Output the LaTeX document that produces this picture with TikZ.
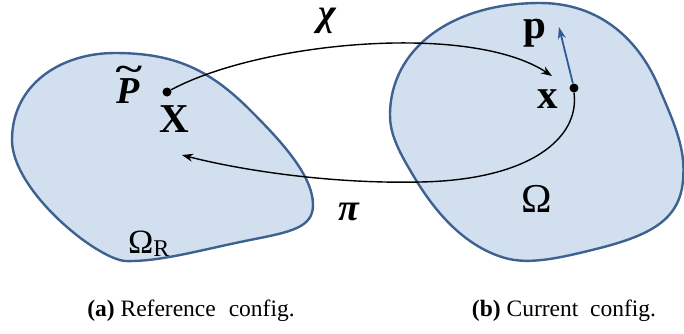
\documentclass[tikz,border=0pt]{standalone}
\usepackage{fontspec}
\setmainfont{Liberation Serif}
\usetikzlibrary{arrows.meta}
\definecolor{blobfill}{HTML}{D2DFEE}
\definecolor{blobline}{HTML}{3D6291}
\definecolor{vecblue}{HTML}{2F5A96}
\tikzset{
  blob/.style={fill=blobfill, draw=blobline, line width=2.4pt},
  mapline/.style={line width=1.4pt, -{Stealth[length=11pt,width=8pt]}},
  dotnode/.style={circle, fill=black, inner sep=0pt, minimum size=9pt},
  lbl/.style={inner sep=0pt, font=\fontsize{41}{44}\selectfont},
  glbl/.style={inner sep=0pt, font=\fontsize{38}{40}\selectfont},
  captext/.style={inner sep=0pt, anchor=base, font=\fontsize{23.5}{26}\selectfont},
}
\begin{document}
\begin{tikzpicture}[x=1pt,y=-1pt]
\useasboundingbox (0,0) rectangle (684,333);
% blobs
\draw[blob] (12,140) .. controls (12,85) and (60,53) .. (115,53)
  .. controls (175,53) and (210,70) .. (250,110)
  .. controls (280,140) and (313,175) .. (313,205)
  .. controls (313,228) and (290,232) .. (250,240)
  .. controls (200,250) and (160,262) .. (125,261)
  .. controls (95,258) and (12,190) .. (12,140) -- cycle;
\draw[blob] (390,115) .. controls (390,50) and (450,3) .. (540,3)
  .. controls (600,3) and (640,40) .. (660,90)
  .. controls (675,125) and (686,150) .. (683,180)
  .. controls (680,220) and (650,235) .. (600,248)
  .. controls (560,258) and (530,265) .. (505,258)
  .. controls (460,245) and (430,205) .. (410,170)
  .. controls (395,145) and (390,130) .. (390,115) -- cycle;
% points
\node[dotnode] (X) at (167,92) {};
\node[dotnode] (x) at (574,88) {};
\coordinate (chiend) at (552,76);
\coordinate (piend) at (182,155);
\coordinate (ptip) at (559,27);
% maps
\draw[mapline] (X) .. controls (260,42) and (470,22) .. (chiend);
\draw[mapline] (x.south) .. controls (580,138) and (530,180) .. (420,182)
   .. controls (330,184) and (240,170) .. (piend);
\draw[line width=1.8pt, vecblue, -{Stealth[length=12pt,width=8pt]}] (x) -- (ptip);
% labels
\node[lbl, anchor=base] (Xl) at (174,132) {\textbf{X}};
\node[glbl, anchor=base] (Pl) at (128,103) {\textbf{\textit{P}}};
\node[inner sep=0pt, font=\fontsize{34}{34}\selectfont] (tl) at (129,73) {\scalebox{1.5}[1]{\textbf{\char"007E}}};
\node[lbl, anchor=base] (pl) at (535,38) {\textbf{p}};
\node[lbl, anchor=base] (xl) at (548,108) {\textbf{x}};
\node[glbl, anchor=base] (chil) at (328,25) {\textbf{\textit{χ}}};
\node[glbl] (pil) at (349,212) {\textbf{\textit{π}}};
\node[lbl, anchor=base] (Om) at (537,212) {Ω};
\node[inner sep=0pt, anchor=base west, font=\fontsize{34}{36}\selectfont] (OmR) at (128,253) {Ω\raisebox{-3pt}{\fontsize{24}{26}\selectfont R}};
% captions
\node[captext] (capa) at (191,316) {\textbf{(a)} Reference\hspace{0.3em} config.};
\node[captext] (capb) at (564,316) {\textbf{(b)} Current\hspace{0.25em} config.};
\end{tikzpicture}
\end{document}
